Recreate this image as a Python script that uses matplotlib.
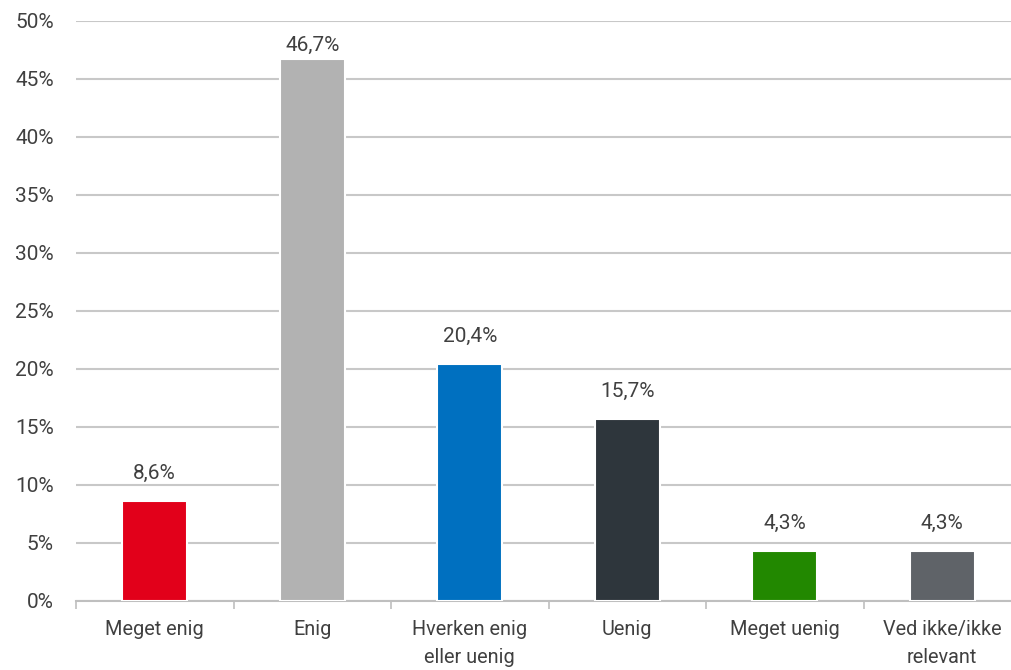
import matplotlib.pyplot as plt
import numpy as np

categories = ["Meget enig", "Enig", "Hverken enig\neller uenig", "Uenig", "Meget uenig", "Ved ikke/ikke\nrelevant"]
values = [8.6, 46.7, 20.4, 15.7, 4.3, 4.3]
colors = ["#E2001A", "#B2B2B2", "#0070C0", "#2E363C", "#228800", "#5F6368"]
yticks = [0, 5, 10, 15, 20, 25, 30, 35, 40, 45, 50]

plt.rcParams['font.family'] = ['Roboto', 'DejaVu Sans']
txt = "#404040"

fig = plt.figure(figsize=(10.12, 6.7), dpi=100)
W, H = 1012, 670
ax = fig.add_axes([76 / W, (H - 601) / H, 945 / W, 580 / H])

x = np.arange(len(categories))
ax.bar(x, values, width=0.41, color=colors, edgecolor="white", linewidth=1.5, zorder=3)

for xi, v in zip(x, values):
    ax.text(xi, min(v + 2.4, 47.9), ("%.1f%%" % v).replace(".", ","),
            ha="center", va="center", fontsize=15, color=txt)

ax.set_xlim(-0.5, len(categories) - 0.5)
ax.set_ylim(0, 50)
ax.set_yticks(yticks)
ax.set_yticklabels(["%d%%" % t for t in yticks], fontsize=15, color=txt)
ax.tick_params(axis="y", length=0, pad=16)
ax.yaxis.grid(True, color="#C8C8C8", linewidth=1.5, zorder=0)
ax.set_axisbelow(True)

ax.set_xticks(x)
ax.set_xticklabels(categories, fontsize=14.3, color=txt, linespacing=1.55)
ax.tick_params(axis="x", which="major", length=0, pad=14)
ax.set_xticks(np.arange(len(categories) + 1) - 0.5, minor=True)
ax.tick_params(axis="x", which="minor", length=6, color="#BFBFBF", width=1.2)

for s in ["top", "right", "left"]:
    ax.spines[s].set_visible(False)
ax.spines["bottom"].set_color("#BFBFBF")
ax.spines["bottom"].set_linewidth(1.5)

fig.savefig("out.png", dpi=100)
